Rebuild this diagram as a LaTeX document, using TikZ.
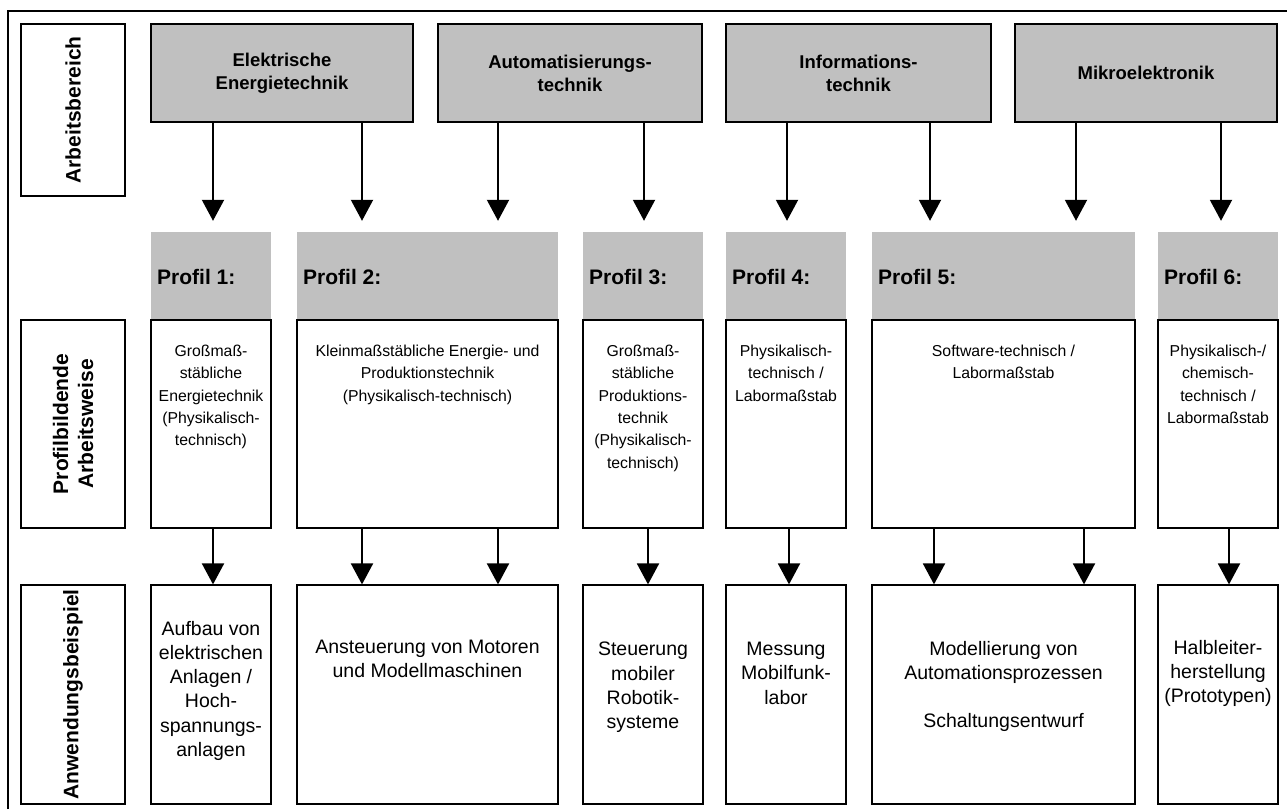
\documentclass[tikz,border=0pt]{standalone}
\usepackage{fontspec}
\setmainfont{Liberation Sans}
\usetikzlibrary{arrows.meta}
\definecolor{hgray}{HTML}{C0C0C0}
\begin{document}
\begin{tikzpicture}[x=1pt,y=-1pt,
  hdrbox/.style={draw, line width=1.5pt, fill=hgray, inner sep=0pt, align=center, minimum height=98pt, font=\bfseries\fontsize{18.5}{23}\selectfont},
  lblbox/.style={draw, line width=1.2pt, rotate=90, inner sep=0pt, align=center, minimum height=104pt, font=\bfseries\fontsize{21}{25}\selectfont},
  phead/.style={fill=hgray, inner sep=0pt, minimum height=88pt},
  pbox/.style={draw, line width=1.2pt, fill=white, inner sep=0pt, minimum height=208pt},
  bbox/.style={draw, line width=1.2pt, fill=white, inner sep=0pt, minimum height=219pt},
  ptitle/.style={anchor=west, inner sep=0pt, font=\bfseries\fontsize{21}{25}\selectfont},
  ptext/.style={anchor=north, inner sep=0pt, align=center, font=\fontsize{15.8}{22.3}\selectfont},
  btext/.style={anchor=north, inner sep=0pt, align=center, font=\fontsize{19.5}{24.2}\selectfont},
  arr/.style={line width=2pt, -{Triangle[length=21pt,width=22pt]}},
]
\useasboundingbox (0,0) rectangle (1287,809);
% outer frame
\draw[line width=1.5pt] (8,809) -- (8,11) -- (1287,11);

% left labels
\node[lblbox, minimum width=172pt] (l1) at (73,110) {Arbeitsbereich};
\node[lblbox, minimum width=208pt] (l2) at (73,424) {Profilbildende\\Arbeitsweise};
\node[lblbox, minimum width=219pt] (l3) at (73,694.5) {Anwendungsbeispiel};

% headers
\node[hdrbox, minimum width=262pt] (h1) at (282,73) {Elektrische\\Energietechnik};
\node[hdrbox, minimum width=264pt] (h2) at (570,73) {Automatisierungs-\\technik};
\node[hdrbox, minimum width=265pt] (h3) at (858.5,73) {Informations-\\technik};
\node[hdrbox, minimum width=262pt] (h4) at (1146,73) {Mikroelektronik};

% profile 1
\node[phead, minimum width=120pt] (ph1) at (211,276) {};
\node[ptitle] (pt1) at (157,277) {Profil 1:};
\node[pbox, minimum width=120pt] (pb1) at (211,424) {};
\node[ptext] (px1) at (211,345) {Großmaß-\\stäbliche\\Energietechnik\\(Physikalisch-\\technisch)};
\node[bbox, minimum width=120pt] (bb1) at (211,694.5) {};
\node[btext] (bx1) at (211,621) {Aufbau von\\elektrischen\\Anlagen /\\Hoch-\\spannungs-\\anlagen};

% profile 2
\node[phead, minimum width=261pt] (ph2) at (427.5,276) {};
\node[ptitle] (pt2) at (303,277) {Profil 2:};
\node[pbox, minimum width=261pt] (pb2) at (427.5,424) {};
\node[ptext] (px2) at (427.5,345) {Kleinmaßstäbliche Energie- und\\Produktionstechnik\\(Physikalisch-technisch)};
\node[bbox, minimum width=261pt] (bb2) at (427.5,694.5) {};
\node[btext] (bx2) at (427.5,640) {Ansteuerung von Motoren\\und Modellmaschinen};

% profile 3
\node[phead, minimum width=120pt] (ph3) at (643,276) {};
\node[ptitle] (pt3) at (589,277) {Profil 3:};
\node[pbox, minimum width=120pt] (pb3) at (643,424) {};
\node[ptext] (px3) at (643,345) {Großmaß-\\stäbliche\\Produktions-\\technik\\(Physikalisch-\\technisch)};
\node[bbox, minimum width=120pt] (bb3) at (643,694.5) {};
\node[btext] (bx3) at (643,642) {Steuerung\\mobiler\\Robotik-\\systeme};

% profile 4
\node[phead, minimum width=120pt] (ph4) at (786,276) {};
\node[ptitle] (pt4) at (732,277) {Profil 4:};
\node[pbox, minimum width=120pt] (pb4) at (786,424) {};
\node[ptext] (px4) at (786,345) {Physikalisch-\\technisch /\\Labormaßstab};
\node[bbox, minimum width=120pt] (bb4) at (786,694.5) {};
\node[btext] (bx4) at (786,642) {Messung\\Mobilfunk-\\labor};

% profile 5
\node[phead, minimum width=263pt] (ph5) at (1003.5,276) {};
\node[ptitle] (pt5) at (878,277) {Profil 5:};
\node[pbox, minimum width=263pt] (pb5) at (1003.5,424) {};
\node[ptext] (px5) at (1003.5,345) {Software-technisch /\\Labormaßstab};
\node[bbox, minimum width=263pt] (bb5) at (1003.5,694.5) {};
\node[btext] (bx5) at (1003.5,641) {Modellierung von\\Automationsprozessen\\[24.2pt]Schaltungsentwurf};

% profile 6
\node[phead, minimum width=120pt] (ph6) at (1218,276) {};
\node[ptitle] (pt6) at (1164,277) {Profil 6:};
\node[pbox, minimum width=120pt] (pb6) at (1218,424) {};
\node[ptext] (px6) at (1218,345) {Physikalisch-/\\chemisch-\\technisch /\\Labormaßstab};
\node[bbox, minimum width=120pt] (bb6) at (1218,694.5) {};
\node[btext] (bx6) at (1218,640) {Halbleiter-\\herstellung\\(Prototypen)};

% arrow x positions
\coordinate (ta) at (213,0);
\coordinate (tb) at (362,0);
\coordinate (tc) at (498,0);
\coordinate (td) at (644,0);
\coordinate (te) at (787,0);
\coordinate (tf) at (930,0);
\coordinate (tg) at (1076,0);
\coordinate (th) at (1221,0);
\coordinate (ma) at (213,0);
\coordinate (mb) at (362,0);
\coordinate (mc) at (498,0);
\coordinate (md) at (648,0);
\coordinate (me) at (789,0);
\coordinate (mf) at (934,0);
\coordinate (mg) at (1084,0);
\coordinate (mh) at (1229,0);

% top arrows
\draw[arr, shorten >=11pt] (h1.south -| ta) -- (ph1.north -| ta);
\draw[arr, shorten >=11pt] (h1.south -| tb) -- (ph2.north -| tb);
\draw[arr, shorten >=11pt] (h2.south -| tc) -- (ph2.north -| tc);
\draw[arr, shorten >=11pt] (h2.south -| td) -- (ph3.north -| td);
\draw[arr, shorten >=11pt] (h3.south -| te) -- (ph4.north -| te);
\draw[arr, shorten >=11pt] (h3.south -| tf) -- (ph5.north -| tf);
\draw[arr, shorten >=11pt] (h4.south -| tg) -- (ph5.north -| tg);
\draw[arr, shorten >=11pt] (h4.south -| th) -- (ph6.north -| th);

% middle arrows
\draw[arr] (pb1.south -| ma) -- (bb1.north -| ma);
\draw[arr] (pb2.south -| mb) -- (bb2.north -| mb);
\draw[arr] (pb2.south -| mc) -- (bb2.north -| mc);
\draw[arr] (pb3.south -| md) -- (bb3.north -| md);
\draw[arr] (pb4.south -| me) -- (bb4.north -| me);
\draw[arr] (pb5.south -| mf) -- (bb5.north -| mf);
\draw[arr] (pb5.south -| mg) -- (bb5.north -| mg);
\draw[arr] (pb6.south -| mh) -- (bb6.north -| mh);
\end{tikzpicture}
\end{document}
